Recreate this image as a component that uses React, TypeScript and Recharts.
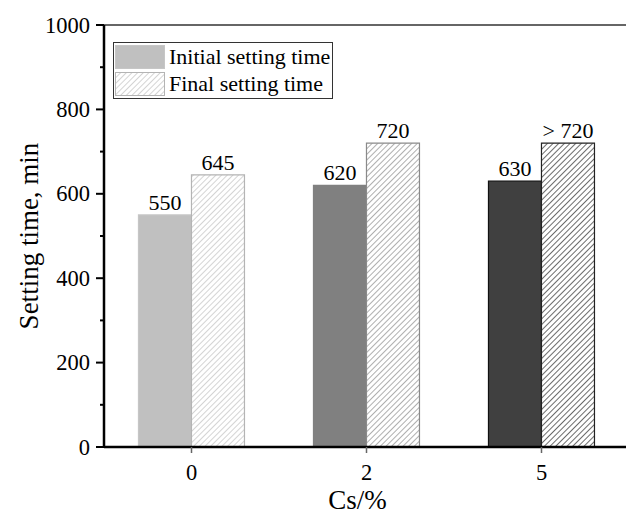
import { Bar, BarChart, Cell, LabelList, Legend, ReferenceLine, XAxis, YAxis } from "recharts";

const categories = ["0", "2", "5"];
const initialTime = [550, 620, 630];
const finalTime = [645, 720, 720];
const finalText = ["645", "720", "> 720"];
const yTicks = [0, 100, 200, 300, 400, 500, 600, 700, 800, 900, 1000];
const seriesNames = ["Initial setting time", "Final setting time"];

const initialFills = ["#c0c0c0", "#808080", "#404040"];
const initialStrokes = ["#c6c6c6", "#808080", "#111111"];
const hatchColors = ["#c2c2c2", "#8c8c8c", "#2c2c2c"];
const finalStrokes = ["#b4b4b4", "#8a8a8a", "#222222"];

const FONT = "'Liberation Serif', 'Times New Roman', serif";

const data = categories.map((cs, i) => ({
  cs,
  initial: initialTime[i],
  final: finalTime[i],
  finalLabel: finalText[i],
}));

function YTick(props: any) {
  const { x, y, payload } = props;
  const major = payload.value % 200 === 0;
  return (
    <g>
      <line x1={x - (major ? 8 : 4)} x2={x} y1={y} y2={y} stroke="#000" strokeWidth={2} />
      {major && (
        <text x={x - 14} y={y} dy="0.34em" textAnchor="end" fontSize={22.5} fill="#000">
          {payload.value}
        </text>
      )}
    </g>
  );
}

function XTick(props: any) {
  const { x, y, payload } = props;
  return (
    <text x={x} y={y} dy="0.71em" textAnchor="middle" fontSize={22.5} fill="#000">
      {payload.value}
    </text>
  );
}

function BarLabel(props: any) {
  const { x, y, width, value } = props;
  return (
    <text x={x + width / 2} y={y - 5} textAnchor="middle" fontSize={22} fill="#000">
      {value}
    </text>
  );
}

function LegendBox() {
  const row = (i: number) => (
    <div key={i} style={{ display: "flex", alignItems: "center", height: 24, marginBottom: i === 0 ? 3 : 0 }}>
      <svg width={50} height={24} style={{ display: "block" }}>
        <rect
          x={0.5}
          y={0.5}
          width={49}
          height={23}
          fill={i === 0 ? initialFills[0] : "url(#hatch0)"}
          stroke={i === 0 ? initialStrokes[0] : finalStrokes[0]}
        />
      </svg>
      <span style={{ marginLeft: 4, fontSize: 22, lineHeight: "24px", color: "#000", whiteSpace: "nowrap" }}>
        {seriesNames[i]}
      </span>
    </div>
  );
  return (
    <div
      style={{
        boxSizing: "border-box",
        width: 220,
        height: 57,
        border: "1.3px solid #333",
        padding: "2px 1px",
      }}
    >
      {row(0)}
      {row(1)}
    </div>
  );
}

export default function App() {
  return (
    <div
      style={{
        position: "fixed",
        left: 0,
        top: 0,
        width: 626,
        height: 515,
        overflow: "hidden",
        background: "#fff",
        fontFamily: FONT,
      }}
    >
      <svg width={0} height={0} style={{ position: "absolute" }}>
        <defs>
          {hatchColors.map((c, i) => (
            <pattern
              key={i}
              id={`hatch${i}`}
              patternUnits="userSpaceOnUse"
              width={4}
              height={4}
              patternTransform="rotate(45)"
            >
              <rect width={4} height={4} fill="#fff" />
              <line x1={0} y1={0} x2={0} y2={4} stroke={c} strokeWidth={1.4} />
            </pattern>
          ))}
        </defs>
      </svg>
      <BarChart
        width={640}
        height={515}
        data={data}
        margin={{ top: 25, right: 11, left: 0, bottom: 0 }}
        barCategoryGap="19.7%"
        barGap={0}
      >
        <ReferenceLine y={1000} stroke="#333" strokeWidth={1.5} />
        <XAxis
          dataKey="cs"
          height={68}
          tickSize={6}
          tickMargin={11}
          axisLine={{ stroke: "#000", strokeWidth: 2.5 }}
          tickLine={{ stroke: "#666", strokeWidth: 1.5 }}
          tick={<XTick />}
          label={(p: any) => {
            const vb = p.viewBox;
            return (
              <text x={vb.x + vb.width / 2 - 9} y={509} textAnchor="middle" fontSize={27} fill="#000">
                Cs/%
              </text>
            );
          }}
        />
        <YAxis
          width={104}
          domain={[0, 1000]}
          ticks={yTicks}
          interval={0}
          tickSize={0}
          tickMargin={0}
          tickLine={false}
          axisLine={{ stroke: "#000", strokeWidth: 2.5 }}
          tick={<YTick />}
          label={(p: any) => {
            const vb = p.viewBox;
            const cx = vb.x + 29;
            const cy = vb.y + vb.height / 2;
            return (
              <text
                x={cx}
                y={cy}
                transform={`rotate(-90, ${cx}, ${cy})`}
                textAnchor="middle"
                dominantBaseline="central"
                fontSize={27}
                fill="#000"
              >
                Setting time, min
              </text>
            );
          }}
        />
        <Legend
          layout="vertical"
          align="center"
          verticalAlign="middle"
          wrapperStyle={{ left: 113, top: 42, width: 220, height: 57 }}
          content={() => <LegendBox />}
        />
        <Bar dataKey="initial" name={seriesNames[0]} isAnimationActive={false} strokeWidth={1.2}>
          {data.map((_, i) => (
            <Cell key={i} fill={initialFills[i]} stroke={initialStrokes[i]} />
          ))}
          <LabelList dataKey="initial" content={<BarLabel />} />
        </Bar>
        <Bar dataKey="final" name={seriesNames[1]} isAnimationActive={false} strokeWidth={1.2}>
          {data.map((_, i) => (
            <Cell key={i} fill={`url(#hatch${i})`} stroke={finalStrokes[i]} />
          ))}
          <LabelList dataKey="finalLabel" content={<BarLabel />} />
        </Bar>
      </BarChart>
    </div>
  );
}
